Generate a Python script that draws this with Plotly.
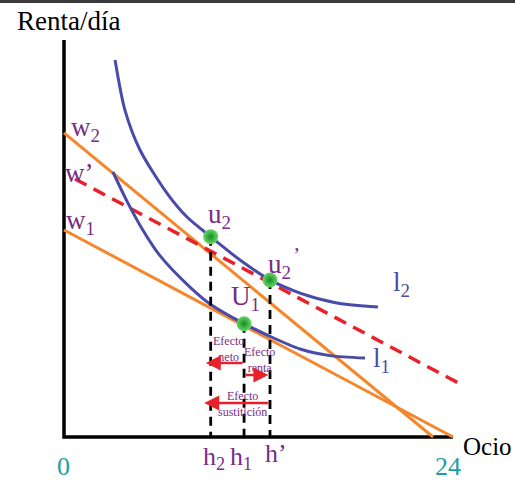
import plotly.graph_objects as go

# ---------------- data (hours of leisure on x, income/day on y) ----------------
i2_x = [3.15, 3.76, 4.69, 6.35, 7.59, 9.05, 10.86, 12.71, 14.56, 16.84, 19.37]
i2_y = [23.26, 20.17, 17.71, 15.05, 13.57, 12.36, 10.92, 9.69, 8.88, 8.27, 8.02]

i1_x = [3.02, 3.89, 4.87, 5.92, 7.77, 9.01, 11.11, 12.71, 14.56, 16.41, 18.57]
i1_y = [16.35, 14.54, 12.76, 11.19, 9.25, 8.21, 6.99, 6.21, 5.43, 5.02, 4.87]

w2_x = [0, 22.77]
w2_y = [18.76, 0]
w1_x = [0, 24]
w1_y = [12.77, 0]
wc_x = [0.68, 24.56]
wc_y = [15.92, 3.21]

pt_names = ["u2", "u2'", "U1"]
pt_x = [9.05, 12.71, 11.11]
pt_y = [12.36, 9.69, 6.99]

axis_x_max = 24
axis_y_max = 24.49

# ---------------- styling helpers ----------------
S = 16.208  # pixels per unit
def X(px):
    return (px - 64) / S
def Y(py):
    return (437 - py) / S

ORANGE = '#F5862B'
BLUE = '#4A4AA8'
RED = '#E8222B'
PURPLE = '#7A2D84'
TEAL = '#1E9E9E'
FONT = 'Liberation Serif'

fig = go.Figure()

# axes
fig.add_trace(go.Scatter(x=[0, 0, axis_x_max], y=[axis_y_max, 0, 0], mode='lines',
                         line=dict(color='black', width=3.5), hoverinfo='skip'))

# budget lines
fig.add_trace(go.Scatter(x=w1_x, y=w1_y, mode='lines', line=dict(color=ORANGE, width=3)))
fig.add_trace(go.Scatter(x=w2_x, y=w2_y, mode='lines', line=dict(color=ORANGE, width=3)))
fig.add_trace(go.Scatter(x=wc_x, y=wc_y, mode='lines',
                         line=dict(color=RED, width=3.5, dash='13px,8px')))

# indifference curves
fig.add_trace(go.Scatter(x=i2_x, y=i2_y, mode='lines',
                         line=dict(color=BLUE, width=3, shape='spline', smoothing=0.8)))
fig.add_trace(go.Scatter(x=i1_x, y=i1_y, mode='lines',
                         line=dict(color=BLUE, width=3, shape='spline', smoothing=0.8)))

# dashed verticals from points to the axis
for xx, yy in zip(pt_x, pt_y):
    fig.add_trace(go.Scatter(x=[xx, xx], y=[yy, 0], mode='lines',
                             line=dict(color='black', width=2.8, dash='9px,6px')))

# equilibrium points
fig.add_trace(go.Scatter(x=pt_x, y=pt_y, mode='markers', text=pt_names,
                         marker=dict(size=15, color='#66D866',
                                     gradient=dict(type='radial', color='#178A24'),
                                     line=dict(width=0))))

ann = []
def label(txt, px, py, size, color, **kw):
    ann.append(dict(x=X(px), y=Y(py), text=txt, showarrow=False, xanchor='center',
                    yanchor='middle', font=dict(family=FONT, size=size, color=color), **kw))

label('Renta/día', 68, 21, 27, 'black')
label('Ocio', 487, 446, 25, 'black')
label('0', 63, 466, 26, TEAL)
label('24', 448, 466, 26, TEAL)
label('h<sub>2</sub>', 214, 458, 26, PURPLE)
label('h<sub>1</sub>', 241, 458, 26, PURPLE)
label('h’', 276, 453, 26, PURPLE)
label('w<sub>2</sub>', 85, 129, 27, PURPLE)
label('w’', 79, 173, 27, PURPLE)
label('w<sub>1</sub>', 80, 222, 27, PURPLE)
label('u<sub>2</sub>', 219, 216, 27, PURPLE)
label('u<sub>2</sub>', 279, 266, 27, PURPLE)
label('’', 296, 254, 22, PURPLE)
label('U<sub>1</sub>', 245, 298, 27, PURPLE)
label('l<sub>2</sub>', 401, 284, 27, BLUE)
label('l<sub>1</sub>', 381, 360, 27, BLUE)

label('Efecto<br>neto', 228, 349, 12, PURPLE)
label('Efecto<br>renta', 259, 360, 12, PURPLE)
label('Efecto<br>sustitición', 242, 404, 12, PURPLE)

# effect arrows
def arrow(x_from, x_to, py):
    ann.append(dict(x=x_to, y=Y(py), ax=x_from, ay=Y(py), xref='x', yref='y',
                    axref='x', ayref='y', text='', showarrow=True, arrowhead=2,
                    arrowsize=1.2, arrowwidth=2.5, arrowcolor=RED, standoff=0,
                    startstandoff=0))

arrow(pt_x[2], pt_x[0] - 0.3, 363)
arrow(pt_x[2], pt_x[1] - 0.1, 375)
arrow(pt_x[1], pt_x[0] - 0.4, 403)

fig.update_layout(
    width=515, height=480, autosize=False,
    margin=dict(l=0, r=0, t=0, b=0),
    paper_bgcolor='white', plot_bgcolor='white',
    showlegend=False,
    xaxis=dict(range=[X(0), X(515)], visible=False, fixedrange=True),
    yaxis=dict(range=[Y(480), Y(0)], visible=False, fixedrange=True),
    annotations=ann,
    shapes=[dict(type='rect', xref='paper', yref='paper', x0=0, x1=1, y0=0.994, y1=1.0,
                 fillcolor='#3a3a3a', line=dict(width=0), layer='above')],
)

fig.write_html('out.html', config={'displayModeBar': False},
               post_script="document.body.style.margin='0';document.body.style.overflow='hidden';")
